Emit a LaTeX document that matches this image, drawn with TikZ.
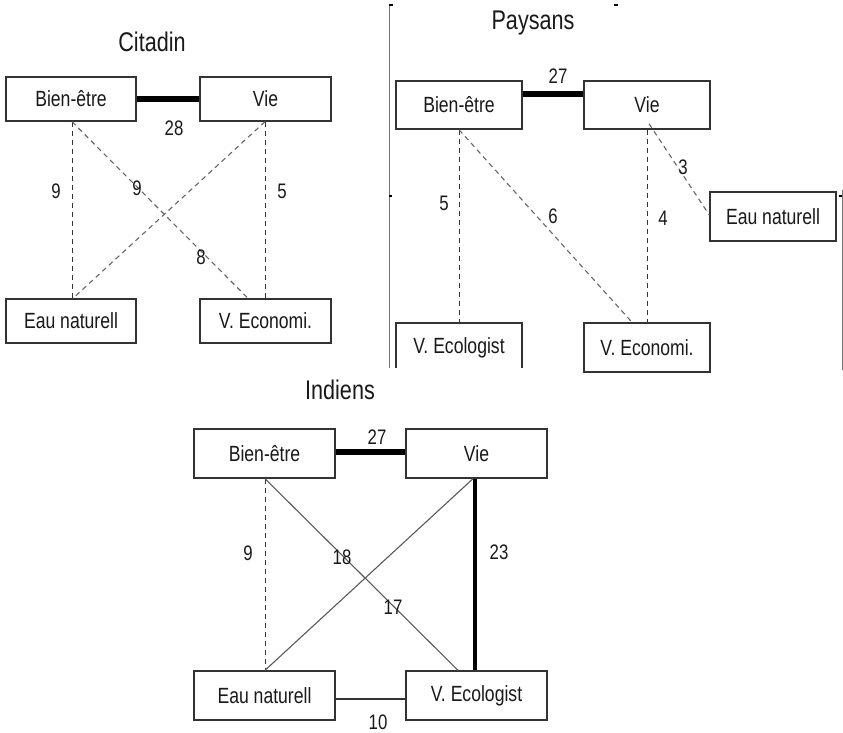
\documentclass[tikz,border=0pt]{standalone}
\usepackage{fontspec}
\setmainfont{Liberation Sans}[FakeStretch=0.8]
\begin{document}
\begin{tikzpicture}[x=1pt,y=-1pt,
  box/.style={draw=black!80, line width=1.4pt, fill=white, inner sep=0pt, text=black!90, font=\fontsize{22}{24}\selectfont},
  ttl/.style={font=\fontsize{27}{30}\selectfont, text=black!90},
  lbl/.style={font=\fontsize{21}{23}\selectfont, text=black!90, inner sep=0pt},
  thick link/.style={line width=6pt, black},
  dlink/.style={black!80, line width=1pt, dash pattern=on 5pt off 4pt},
  glink/.style={black!60, line width=1.1pt, dash pattern=on 5pt off 4pt},
  slink/.style={black!65, line width=1.1pt},
  frame/.style={black!55, line width=1pt}]
\useasboundingbox (0,0) rectangle (843,733);

% ---------------- Citadin ----------------
\node[ttl] (tcit) at (152,42) {Citadin};
\node[box, minimum width=130, minimum height=44] (cbe) at (71,99) {Bien-être};
\node[box, minimum width=131, minimum height=44] (cvie) at (265.5,99) {Vie};
\node[box, minimum width=130, minimum height=44] (ceau) at (71,321) {Eau naturell};
\node[box, minimum width=131, minimum height=44] (ceco) at (265.5,321) {V. Economi.};
\draw[thick link] (cbe.east) -- (cvie.west);
\draw[dlink] ([xshift=1]cbe.south) -- ([xshift=1]ceau.north);
\draw[glink] ([xshift=1]cbe.south) -- ([xshift=-17.5]ceco.north);
\draw[glink] ([xshift=-0.5]cvie.south) -- ([xshift=2]ceau.north);
\draw[dlink] ([xshift=-0.5]cvie.south) -- ([xshift=-0.5]ceco.north);
\node[lbl] (c28) at (174,128) {28};
\node[lbl] (c9a) at (56,191) {9};
\node[lbl] (c9b) at (137,188) {9};
\node[lbl] (c8) at (201,257) {8};
\node[lbl] (c5) at (282,191) {5};

% ---------------- Paysans ----------------
\draw[frame] (389,5) -- (389,368);
\draw[black, line width=1.5pt] (389,5) -- (393,5);
\draw[black, line width=1.5pt] (389,196) -- (392,196);
\draw[black, line width=1.5pt] (614,5) -- (618,5);
\draw[frame] (842,190) -- (842,370);
\draw[black, line width=1.5pt] (839,196) -- (842,196);
\node[ttl] (tpay) at (533,23) {Paysans};
\node[box, minimum width=126, minimum height=48] (pbe) at (459,105) {Bien-être};
\node[box, minimum width=126, minimum height=48] (pvie) at (647,105) {Vie};
\node[box, minimum width=126, minimum height=49] (peau) at (773,216.5) {Eau naturell};
\begin{scope}
\clip (380,300) rectangle (560,367);
\node[box, minimum width=126, minimum height=49] (peco) at (459,347.5) {V. Ecologist};
\end{scope}
\node[box, minimum width=126, minimum height=49] (pecon) at (647,347.5) {V. Economi.};
\draw[thick link] ([yshift=11]pbe.east) -- ([yshift=11]pvie.west);
\draw[dlink] (pbe.south) -- (peco.north);
\draw[glink] (pbe.south) -- ([xshift=-15]pecon.north);
\draw[dlink] (pvie.south) -- (pecon.north);
\draw[glink] ([xshift=2,yshift=6]pvie.south) -- ([yshift=1.5]peau.west);
\node[lbl] (p27) at (558,76) {27};
\node[lbl] (p5) at (444,203) {5};
\node[lbl] (p6) at (553,216) {6};
\node[lbl] (p4) at (663,218) {4};
\node[lbl] (p3) at (683,167) {3};

% ---------------- Indiens ----------------
\node[ttl] (tind) at (340,390) {Indiens};
\node[box, minimum width=141, minimum height=49] (ibe) at (264.5,453.5) {Bien-être};
\node[box, minimum width=141, minimum height=49] (ivie) at (476.5,453.5) {Vie};
\node[box, minimum width=141, minimum height=49] (ieau) at (264.5,695.5) {Eau naturell};
\node[box, minimum width=141, minimum height=49] (ieco) at (476.5,695.5) {V. Ecologist};
\draw[thick link] ([yshift=1.5]ibe.east) -- ([yshift=1.5]ivie.west);
\draw[dlink] ([xshift=0.5]ibe.south) -- ([xshift=0.5]ieau.north);
\draw[slink] ([xshift=0.5]ibe.south) -- ([xshift=-18.5]ieco.north);
\draw[slink] ([xshift=-3.5]ivie.south) -- ([xshift=0.5]ieau.north);
\draw[line width=4.5pt, black] ([xshift=-1.5]ivie.south) -- ([xshift=-1.5]ieco.north);
\draw[black!80, line width=1.2pt] ([yshift=-3.5]ieau.east) -- ([yshift=-3.5]ieco.west);
\node[lbl] (i27) at (377,437) {27};
\node[lbl] (i9) at (248,553) {9};
\node[lbl] (i18) at (342,557) {18};
\node[lbl] (i17) at (393,607) {17};
\node[lbl] (i23) at (499,552) {23};
\node[lbl] (i10) at (378,722) {10};
\end{tikzpicture}
\end{document}
